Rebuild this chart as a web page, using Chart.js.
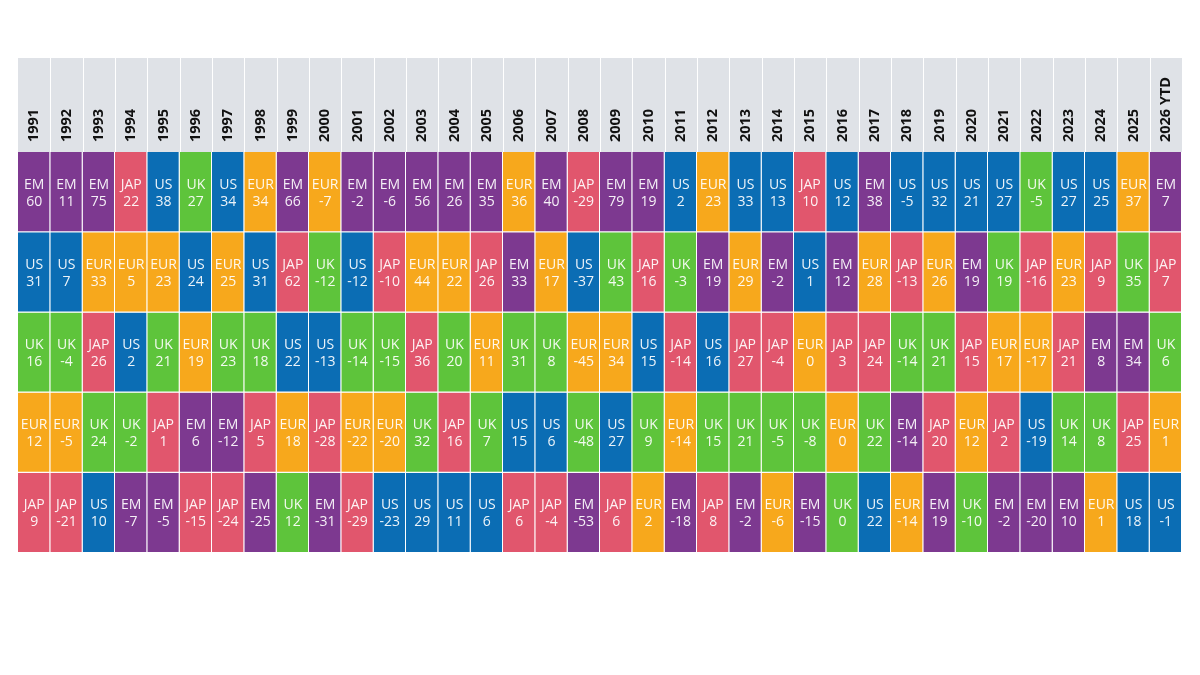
<!DOCTYPE html>
<html>
<head>
<meta charset="utf-8">
<script src="https://cdn.jsdelivr.net/npm/chart.js@4"></script>
<style>
  html, body { margin: 0; padding: 0; background: #fff; }
  #wrap { width: 1200px; height: 675px; }
</style>
</head>
<body>
<div id="wrap"><canvas id="returnsChart"></canvas></div>
<script>
// years across the top
const years = ['1991','1992','1993','1994','1995','1996','1997','1998','1999','2000',
  '2001','2002','2003','2004','2005','2006','2007','2008','2009','2010',
  '2011','2012','2013','2014','2015','2016','2017','2018','2019','2020',
  '2021','2022','2023','2024','2025','2026 YTD'];

// markets per rank (1 = best)
const rank1Mkt = ['EM','EM','EM','JAP','US','UK','US','EUR','EM','EUR','EM','EM','EM','EM','EM','EUR','EM','JAP','EM','EM',
  'US','EUR','US','US','JAP','US','EM','US','US','US','US','UK','US','US','EUR','EM'];
const rank1Ret = [60,11,75,22,38,27,34,34,66,-7,-2,-6,56,26,35,36,40,-29,79,19,
  2,23,33,13,10,12,38,-5,32,21,27,-5,27,25,37,7];

const rank2Mkt = ['US','US','EUR','EUR','EUR','US','EUR','US','JAP','UK','US','JAP','EUR','EUR','JAP','EM','EUR','US','UK','JAP',
  'UK','EM','EUR','EM','US','EM','EUR','JAP','EUR','EM','UK','JAP','EUR','JAP','UK','JAP'];
const rank2Ret = [31,7,33,5,23,24,25,31,62,-12,-12,-10,44,22,26,33,17,-37,43,16,
  -3,19,29,-2,1,12,28,-13,26,19,19,-16,23,9,35,7];

const rank3Mkt = ['UK','UK','JAP','US','UK','EUR','UK','UK','US','US','UK','UK','JAP','UK','EUR','UK','UK','EUR','EUR','US',
  'JAP','US','JAP','JAP','EUR','JAP','JAP','UK','UK','JAP','EUR','EUR','JAP','EM','EM','UK'];
const rank3Ret = [16,-4,26,2,21,19,23,18,22,-13,-14,-15,36,20,11,31,8,-45,34,15,
  -14,16,27,-4,0,3,24,-14,21,15,17,-17,21,8,34,6];

const rank4Mkt = ['EUR','EUR','UK','UK','JAP','EM','EM','JAP','EUR','JAP','EUR','EUR','UK','JAP','UK','US','US','UK','US','UK',
  'EUR','UK','UK','UK','UK','EUR','UK','EM','JAP','EUR','JAP','US','UK','UK','JAP','EUR'];
const rank4Ret = [12,-5,24,-2,1,6,-12,5,18,-28,-22,-20,32,16,7,15,6,-48,27,9,
  -14,15,21,-5,-8,0,22,-14,20,12,2,-19,14,8,25,1];

const rank5Mkt = ['JAP','JAP','US','EM','EM','JAP','JAP','EM','UK','EM','JAP','US','US','US','US','JAP','JAP','EM','JAP','EUR',
  'EM','JAP','EM','EUR','EM','UK','US','EUR','EM','UK','EM','EM','EM','EUR','US','US'];
const rank5Ret = [9,-21,10,-7,-5,-15,-24,-25,12,-31,-29,-23,29,11,6,6,-4,-53,6,2,
  -18,8,-2,-6,-15,0,22,-14,19,-10,-2,-20,10,1,18,-1];

const marketColors = {
  EM: '#7d3990',
  US: '#0b6db4',
  UK: '#5ec43b',
  EUR: '#f7a81c',
  JAP: '#e1566d'
};

const ranks = [
  { mkt: rank1Mkt, ret: rank1Ret },
  { mkt: rank2Mkt, ret: rank2Ret },
  { mkt: rank3Mkt, ret: rank3Ret },
  { mkt: rank4Mkt, ret: rank4Ret },
  { mkt: rank5Mkt, ret: rank5Ret }
];

const HEADER_TOP = 58;

// grey header band, white column dividers and rotated year labels
const headerPlugin = {
  id: 'headerBand',
  beforeDraw(chart) {
    const ctx = chart.ctx;
    const area = chart.chartArea;
    const x = chart.scales.x;
    const colW = (area.right - area.left) / years.length;
    ctx.save();
    ctx.fillStyle = '#dfe2e7';
    ctx.fillRect(area.left, HEADER_TOP, area.right - area.left, area.top - HEADER_TOP);
    ctx.strokeStyle = '#ffffff';
    ctx.lineWidth = 1;
    for (let i = 1; i < years.length; i++) {
      const px = Math.round(x.getPixelForValue(i) - colW / 2) + 0.5;
      ctx.beginPath();
      ctx.moveTo(px, HEADER_TOP);
      ctx.lineTo(px, area.top);
      ctx.stroke();
    }
    ctx.fillStyle = '#111111';
    ctx.font = 'bold 14.5px "Open Sans"';
    ctx.textAlign = 'left';
    ctx.textBaseline = 'middle';
    years.forEach((yr, i) => {
      ctx.save();
      ctx.translate(x.getPixelForValue(i), area.top - 10);
      ctx.rotate(-Math.PI / 2);
      ctx.fillText(yr, 0, 0);
      ctx.restore();
    });
    ctx.restore();
  }
};

// market name + return inside each cell
const cellLabels = {
  id: 'cellLabels',
  afterDatasetsDraw(chart) {
    const ctx = chart.ctx;
    ctx.save();
    ctx.fillStyle = 'rgba(255,255,255,0.92)';
    ctx.textAlign = 'center';
    ctx.textBaseline = 'middle';
    ctx.font = '14px "Open Sans"';
    chart.data.datasets.forEach((ds, di) => {
      const meta = chart.getDatasetMeta(di);
      meta.data.forEach((bar, i) => {
        const cy = (bar.y + bar.base) / 2 + 1;
        ctx.fillText(ranks[di].mkt[i], bar.x, cy - 8.5);
        ctx.fillText(String(ranks[di].ret[i]), bar.x, cy + 8.5);
      });
    });
    ctx.restore();
  }
};

const datasets = ranks.map((r, idx) => ({
  label: 'Rank ' + (idx + 1),
  data: years.map(() => 1),
  backgroundColor: r.mkt.map(m => marketColors[m]),
  borderColor: '#ffffff',
  borderWidth: { top: 0, left: 0, right: 1, bottom: 1 },
  borderSkipped: false,
  inflateAmount: 0,
  barPercentage: 1,
  categoryPercentage: 1
}));

new Chart(document.getElementById('returnsChart'), {
  type: 'bar',
  data: { labels: years, datasets: datasets },
  options: {
    responsive: true,
    maintainAspectRatio: false,
    animation: false,
    layout: { padding: { top: HEADER_TOP, left: 18, right: 18, bottom: 122 } },
    plugins: {
      legend: { display: false },
      tooltip: { enabled: false }
    },
    scales: {
      x: {
        position: 'top',
        stacked: true,
        grid: { display: false, drawTicks: false },
        border: { display: false },
        ticks: { display: false },
        afterFit(scale) { scale.height = 94; }
      },
      y: {
        display: false,
        stacked: true,
        reverse: true,
        min: 0,
        max: 5
      }
    }
  },
  plugins: [headerPlugin, cellLabels]
});
</script>
</body>
</html>
